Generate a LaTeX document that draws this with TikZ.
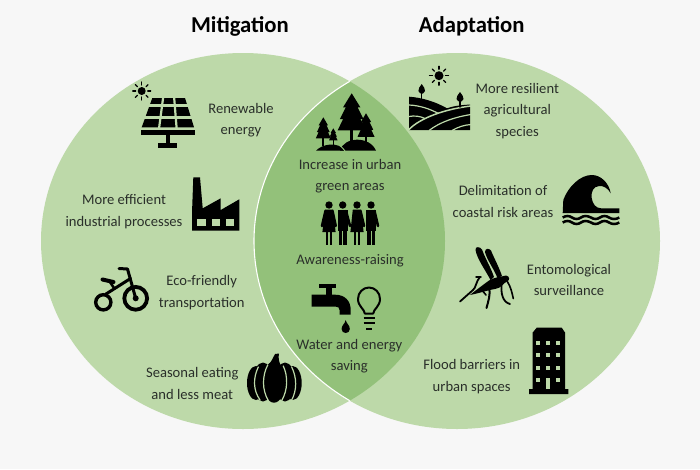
\documentclass[tikz,border=0pt]{standalone}
\usepackage{fontspec}
\setmainfont{Carlito}
\definecolor{bgc}{HTML}{F7F7F7}
\definecolor{leaf}{HTML}{BDD9A9}
\definecolor{lens}{HTML}{93C17A}
\definecolor{txt}{HTML}{2A2F2A}
\tikzset{
  ink/.style={fill=black,draw=none},
  inkline/.style={draw=black,line width=#1,line cap=round,line join=round},
  inkline/.default=2pt,
  gapline/.style={draw=#1,line width=1.2pt,line cap=round},
  gapline/.default=leaf,
  label/.style={text=txt,align=center,inner sep=0pt,font=\fontsize{14.6}{21.3}\selectfont},
  heading/.style={text=black,inner sep=0pt,font=\fontsize{22.7}{24}\selectfont\bfseries},
}
\newcommand{\sunicon}[3]{% x y r
  \fill[black] (#1,#2) circle[radius=#3pt];
  \foreach \a in {0,45,...,315}
    \draw[inkline=1.2pt] ([shift={(\a:#3+2)}]#1,#2) -- ([shift={(\a:#3+5)}]#1,#2);
}
\newcommand{\firtree}[5]{% x top halfwidth height trunk
  \begin{scope}[shift={(#1,#2)},xscale=#3,yscale=#4]
    \fill[black] (0,0) -- (.62,.38) -- (.42,.38) -- (.85,.7) -- (.62,.7) -- (1,1)
      -- (-1,1) -- (-.62,.7) -- (-.85,.7) -- (-.42,.38) -- (-.62,.38) -- cycle;
    \fill[black] (-.12,1) rectangle (.12,1+#5);
  \end{scope}
}
\newcommand{\womanfig}[1]{%
  \fill[black] (#1,205) circle[radius=3.7pt];
  \fill[black] (#1-4.2,209.5) -- (#1+4.2,209.5) -- (#1+6.6,232) -- (#1-6.6,232) -- cycle;
  \fill[black] (#1-3.4,231) rectangle (#1-.6,245);
  \fill[black] (#1+.6,231) rectangle (#1+3.4,245);
}
\newcommand{\manfig}[1]{%
  \fill[black] (#1,205) circle[radius=3.7pt];
  \fill[black] (#1-4.8,209.5) rectangle (#1+4.8,231);
  \fill[black] (#1-3.8,230) rectangle (#1-.5,245);
  \fill[black] (#1+.5,230) rectangle (#1+3.8,245);
}
\begin{document}
\begin{tikzpicture}[x=1pt,y=-1pt]
\useasboundingbox (0,0) rectangle (700,469);
\fill[bgc] (0,0) rectangle (700,469);
% circles
\fill[leaf] (243,241) ellipse[x radius=202pt,y radius=188pt];
\fill[leaf] (457,241) ellipse[x radius=203pt,y radius=188pt];
\begin{scope}
  \clip (243,241) ellipse[x radius=202pt,y radius=188pt];
  \fill[lens] (457,241) ellipse[x radius=203pt,y radius=188pt];
  \draw[white,line width=1.1pt] (457,241) ellipse[x radius=203pt,y radius=188pt];
\end{scope}

% headings
\node[heading] (mit) at (240,26) {Mitigation};
\node[heading] (ada) at (471.7,26) {Adaptation};

% labels
\node[label] (renew) at (241,120) {Renewable\\energy};
\node[label] (indus) at (124,211.5) {More efficient\\industrial processes};
\node[label] (eco) at (201.7,292.5) {Eco-friendly\\transportation};
\node[label] (season) at (192.3,383.5) {Seasonal eating\\and less meat};
\node[label] (urban) at (350,176) {Increase in urban\\green areas};
\node[label] (aware) at (350,260.5) {Awareness-raising};
\node[label] (water) at (349.3,356) {Water and energy\\saving};
\node[label] (resil) at (517.3,111) {More resilient\\agricultural\\species};
\node[label] (delim) at (503,201.5) {Delimitation of\\coastal risk areas};
\node[label] (ento) at (569,280) {Entomological\\surveillance};
\node[label] (flood) at (471.7,376.5) {Flood barriers in\\urban spaces};

% solar panel
\sunicon{141.7}{91}{4}
\fill[black] (152.3,98) -- (185,98) -- (194,127.3) -- (141.7,127.3) -- cycle;
\draw[leaf,line width=3pt] (145,105.7) -- (192,105.7) (142,117.2) -- (195,117.2);
\draw[leaf,line width=2.2pt] (163.2,97) -- (159.1,128) (174.1,97) -- (176.6,128);
\fill[black] (141,130.3) rectangle (194.7,135);
\fill[black] (165.7,135) rectangle (170,143.5);
\fill[black] (158,143.3) rectangle (177.3,147.7);

% factory
\fill[black] (193.3,177.3) -- (200,177.3) -- (202.7,208.3) -- (220.7,198.3) -- (220.7,210)
  -- (239.3,199.3) -- (239.3,230.7) -- (192,230.7) -- (192,213) -- cycle;
\fill[leaf] (197.3,219) rectangle (206,225.7);
\fill[leaf] (211.7,219) rectangle (220,225.7);
\fill[leaf] (226,219) rectangle (234.3,225.7);

% tricycle
\draw[black,line width=3.4pt] (103.3,302.3) circle[radius=7.6pt];
\draw[black,line width=3.8pt] (135.7,298.3) circle[radius=11.4pt];
\fill[black] (135.7,298.3) circle[radius=3pt];
\draw[inkline=3pt] (119,268.5) -- (127.5,269) -- (135.7,298.3);
\draw[inkline=3pt] (130.5,278.5) -- (106,294);
\draw[inkline=4pt] (102.5,279.5) -- (113.5,282);
\draw[inkline=2.6pt] (110,282) -- (114,288);

% pumpkin
\fill[black] (256,383) ellipse[x radius=9pt,y radius=17pt];
\fill[black] (292.7,383) ellipse[x radius=9pt,y radius=17pt];
\fill[black] (263,382) ellipse[x radius=10pt,y radius=19.5pt];
\fill[black] (285,382) ellipse[x radius=10pt,y radius=19.5pt];
\fill[black] (274,382) ellipse[x radius=11pt,y radius=20.7pt];
\fill[black] (268,366) .. controls (271,362) and (273,358) .. (275,354) -- (279,353.5)
  .. controls (278,358) and (279,362) .. (281,366) -- cycle;
\draw[gapline] (258.3,367) .. controls (253,378) and (253,390) .. (260,400);
\draw[gapline] (267.7,365) .. controls (262,376) and (262,390) .. (268.3,400.5);
\draw[gapline] (283.3,366) .. controls (288,376) and (288,390) .. (281.7,400.5);
\draw[gapline] (291.7,367) .. controls (297,378) and (297,390) .. (291.7,400);

% trees
\firtree{351.7}{93.3}{14}{37}{.3}
\firtree{366}{113.3}{8.5}{23.5}{.25}
\firtree{323.3}{117.3}{7.5}{21}{.35}
\firtree{333.3}{128.3}{4.2}{12}{.35}
\fill[black] (316,150.7) .. controls (322,144) and (338,141) .. (345,150.7) -- cycle;
\fill[black] (340,150.7) .. controls (344,136) and (370,136) .. (376,150.7) -- cycle;
\draw[lens,line width=.9pt] (335,142.5) .. controls (339,144) and (342,147) .. (345,151);

% people
\womanfig{329}
\manfig{342.7}
\womanfig{357}
\manfig{371}
\draw[inkline=2.6pt] (325.5,211) -- (322,226);
\draw[inkline=2.6pt] (332.5,211) -- (335.7,226);
\draw[inkline=2.6pt] (346,211) -- (350,226);
\draw[inkline=2.6pt] (360.5,211) -- (364,226);
\draw[inkline=2.6pt] (374.5,211) -- (378,226);

% tap
\fill[black] (319.3,284) rectangle (336,288.3);
\fill[black] (326,288) rectangle (331.7,295);
\fill[black] (311.7,294.7) -- (335,294.7) .. controls (345,294.7) and (350.7,301) .. (350.7,310)
  -- (350.7,314.5) -- (339.5,314.5) -- (339.5,310) .. controls (339.5,307.5) and (338,306.7) .. (336,306.7)
  -- (311.7,306.7) -- cycle;
\fill[black] (345.7,320) .. controls (346.5,324) and (349.8,325) .. (349.8,329)
  .. controls (349.8,331.5) and (348,333) .. (345.7,333)
  .. controls (343.4,333) and (341.6,331.5) .. (341.6,329)
  .. controls (341.6,325) and (345,324) .. (345.7,320) -- cycle;

% bulb
\draw[black,line width=2pt,line join=round] (364.8,313.5) .. controls (364.5,309) and (358,306.5) .. (358,299)
  .. controls (358,292.5) and (363,287.5) .. (369,287.5)
  .. controls (375,287.5) and (380,292.5) .. (380,299)
  .. controls (380,306.5) and (373.5,309) .. (373.2,313.5) -- cycle;
\draw[black,line width=1.8pt] (363.5,318) -- (374.5,318);
\draw[black,line width=1.8pt] (363.5,322.8) -- (374.5,322.8);
\draw[black,line width=1.8pt] (366,329) -- (372,329);

% farm
\sunicon{439}{75.7}{4.5}
\fill[black] (409,96.7) .. controls (422,97.5) and (436,102) .. (447,108.3)
  .. controls (455,105.5) and (463,105) .. (470,104.5) -- (470,130) -- (409,130) -- cycle;
\draw[leaf,line width=1.2pt] (409,105) .. controls (420,105.5) and (430,109) .. (438,113.3);
\draw[leaf,line width=1.2pt] (409,116.5) .. controls (414,115.5) and (420,116) .. (425,118.5);
\draw[leaf,line width=1.5pt] (409,129.5) .. controls (420,118) and (445,109) .. (471,106);
\draw[leaf,line width=1.2pt] (429,130.5) .. controls (440,122) and (455,117) .. (471,114.5);
\draw[leaf,line width=1.2pt] (452,130.5) .. controls (458,127) and (464,125) .. (471,124.5);
\draw[inkline=1.4pt] (421.7,88) -- (421.7,99);
\fill[black] (421.7,84) .. controls (424,86.5) and (425,89) .. (425,91) .. controls (424,93) and (423,93.5) .. (421.7,94)
  .. controls (420.4,93.5) and (419.4,93) .. (418.4,91) .. controls (418.4,89) and (419.4,86.5) .. (421.7,84) -- cycle;
\draw[inkline=1.4pt] (460,96) -- (460,107);
\fill[black] (460,92) .. controls (462.3,94.5) and (463.5,97) .. (463.5,99) .. controls (462.5,101) and (461.3,101.5) .. (460,102)
  .. controls (458.7,101.5) and (457.5,101) .. (456.5,99) .. controls (456.5,97) and (457.7,94.5) .. (460,92) -- cycle;

% wave
\fill[black] (562.7,213) -- (563.3,200) .. controls (568,187) and (580,175) .. (591.7,175)
  .. controls (601,175) and (609,183) .. (610.7,193.3)
  .. controls (608,188) and (603,185.5) .. (599,186) .. controls (593,186.5) and (591,192) .. (591.7,198)
  .. controls (592.5,204) and (596,208.3) .. (601,208.3) -- (619.3,208.3) -- (619.3,213) -- cycle;
\draw[black,line width=2.5pt] (562.7,217.5) .. controls (566,215.5) and (569,215.5) .. (572,217.5)
  .. controls (575,219.5) and (578,219.5) .. (581,217.5)
  .. controls (584,215.5) and (587,215.5) .. (591,217.5)
  .. controls (594,219.5) and (597,219.5) .. (600,217.5)
  .. controls (603,215.5) and (606,215.5) .. (609,217.5)
  .. controls (612,219.5) and (616,219.5) .. (619.3,217.5);
\draw[black,line width=2.5pt] (562.7,222.5) .. controls (566,220.5) and (569,220.5) .. (572,222.5)
  .. controls (575,224.5) and (578,224.5) .. (581,222.5)
  .. controls (584,220.5) and (587,220.5) .. (591,222.5)
  .. controls (594,224.5) and (597,224.5) .. (600,222.5)
  .. controls (603,220.5) and (606,220.5) .. (609,222.5)
  .. controls (612,224.5) and (616,224.5) .. (619.3,222.5);

% mosquito
\fill[black] (490.5,280) .. controls (486,271) and (477,259) .. (475.5,250)
  .. controls (475,246) and (480,246.5) .. (482,249.5) .. controls (485,258) and (491,268) .. (494,277) -- cycle;
\fill[black] (497.5,278) .. controls (494,269) and (487,260) .. (485,252)
  .. controls (485,248) and (489,248) .. (491,250.5) .. controls (494,258) and (499,267) .. (502,276) -- cycle;
\fill[black] (506,275.5) .. controls (510,276) and (510,280.5) .. (507,281.5)
  .. controls (503,283) and (502,288) .. (495,289) .. controls (488,290) and (484,292) .. (470,295)
  .. controls (476,290) and (483,285) .. (489,280.5) .. controls (495,277) and (500,277) .. (506,275.5) -- cycle;
\draw[inkline=1.8pt] (480,277) .. controls (476,281) and (476,288) .. (473,290) -- (460,301.5);
\draw[inkline=1.4pt] (481,277) -- (476,277);
\draw[inkline=2pt] (489,287) .. controls (491,294) and (488,302) .. (486.5,308);
\draw[inkline=1.6pt] (481,289) -- (486,295);
\draw[inkline=1.8pt] (501.5,285) .. controls (501,292) and (502,302) .. (510,304);
\draw[inkline=1.6pt] (507,281) .. controls (511,287) and (512,293) .. (513.3,298.5);

% building
\fill[black] (536.7,327.7) -- (561.7,327.7) -- (565,332.5) -- (565,389) -- (568.3,389) -- (568.3,394)
  -- (529,394) -- (529,389) -- (532.7,389) -- (532.7,332.5) -- cycle;
\foreach \wy in {342.7,355,367.7,380}
  \foreach \wx in {538.3,548.3,558.3}
    \fill[leaf] (\wx-2,\wy-2) rectangle (\wx+2,\wy+2);
\fill[leaf] (546.3,378) rectangle (550.3,389);
\end{tikzpicture}
\end{document}
